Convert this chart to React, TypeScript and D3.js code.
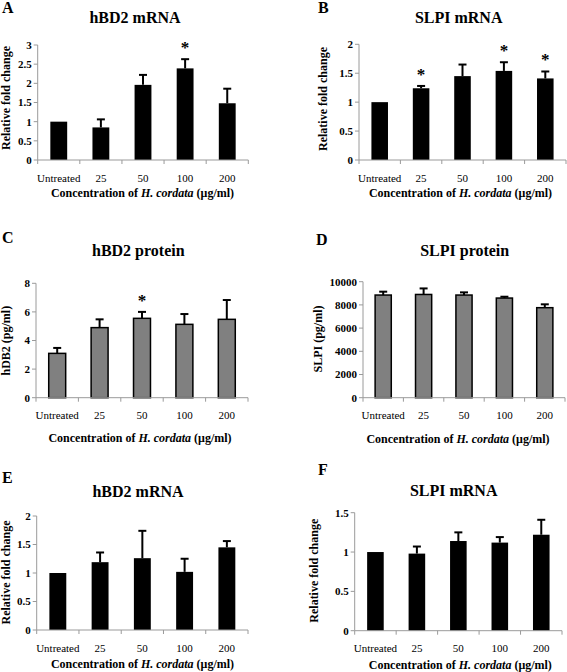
import React from "react";
import * as d3 from "d3";

const categories = ["Untreated", "25", "50", "100", "200"];

// Panel A: hBD2 mRNA
const aValues = [1.0, 0.85, 1.96, 2.39, 1.48];
const aErrors = [0, 0.21, 0.26, 0.24, 0.38];
const aSig = [false, false, false, true, false];
const aTicks = [0, 0.5, 1, 1.5, 2, 2.5, 3];

// Panel B: SLPI mRNA
const bValues = [1.0, 1.24, 1.45, 1.54, 1.41];
const bErrors = [0, 0.04, 0.2, 0.15, 0.12];
const bSig = [false, true, false, true, true];
const bTicks = [0, 0.5, 1, 1.5, 2];

// Panel C: hBD2 protein
const cValues = [3.1, 4.9, 5.55, 5.13, 5.48];
const cErrors = [0.38, 0.58, 0.45, 0.72, 1.35];
const cSig = [false, false, true, false, false];
const cTicks = [0, 2, 4, 6, 8];

// Panel D: SLPI protein
const dValues = [8850, 8900, 8850, 8590, 7760];
const dErrors = [290, 520, 230, 115, 290];
const dSig = [false, false, false, false, false];
const dTicks = [0, 2000, 4000, 6000, 8000, 10000];

// Panel E: hBD2 mRNA
const eValues = [1.0, 1.19, 1.26, 1.02, 1.45];
const eErrors = [0, 0.17, 0.48, 0.23, 0.11];
const eSig = [false, false, false, false, false];
const eTicks = [0, 0.5, 1, 1.5, 2];

// Panel F: SLPI mRNA
const fValues = [1.0, 0.98, 1.14, 1.12, 1.22];
const fErrors = [0, 0.09, 0.11, 0.07, 0.19];
const fSig = [false, false, false, false, false];
const fTicks = [0, 0.5, 1, 1.5];

const FONT = "'Liberation Serif', 'Times New Roman', serif";
const AXIS_COLOR = "#9a9a9a";

type PanelProps = {
  letter: string;
  letterX: number;
  letterY: number;
  title: string;
  titleX: number;
  titleY: number;
  yLabel: string;
  yLabelX: number;
  yLabelY: number;
  left: number;
  right: number;
  top: number;
  bottom: number;
  ticks: number[];
  values: number[];
  errors: number[];
  sig: boolean[];
  fill: string;
  outline: boolean;
  xTickY: number;
  xTitleX: number;
  xTitleY: number;
};

function Panel(p: PanelProps) {
  const yMax = p.ticks[p.ticks.length - 1];
  const x = d3
    .scaleBand<string>()
    .domain(categories)
    .range([p.left, p.right])
    .paddingInner(0.6)
    .paddingOuter(0.3);
  const y = d3.scaleLinear().domain([0, yMax]).range([p.bottom, p.top]);
  const step = x.step();
  const bw = x.bandwidth();
  const bounds = d3.range(categories.length + 1).map((i) => p.left + i * step);

  return (
    <g fontFamily={FONT}>
      <text x={p.letterX} y={p.letterY} fontSize={16} fontWeight="bold">
        {p.letter}
      </text>
      <text x={p.titleX} y={p.titleY} fontSize={16} fontWeight="bold" textAnchor="middle">
        {p.title}
      </text>
      <text
        transform={`translate(${p.yLabelX},${p.yLabelY}) rotate(-90)`}
        fontSize={12}
        fontWeight="bold"
        textAnchor="middle"
      >
        {p.yLabel}
      </text>
      {/* bars */}
      {categories.map((c, i) => (
        <rect
          key={c}
          x={x(c)}
          y={y(p.values[i])}
          width={bw}
          height={y(0) - y(p.values[i])}
          fill={p.fill}
          stroke={p.outline ? "#000" : "none"}
          strokeWidth={p.outline ? 1.5 : 0}
        />
      ))}
      {/* error bars */}
      {categories.map((c, i) => {
        if (p.errors[i] <= 0) return null;
        const cx = (x(c) as number) + bw / 2;
        const y0 = y(p.values[i]);
        const y1 = y(p.values[i] + p.errors[i]);
        return (
          <g key={"e" + c} stroke="#000" strokeWidth={2}>
            <line x1={cx} x2={cx} y1={y0} y2={y1} />
            <line x1={cx - 4} x2={cx + 4} y1={y1} y2={y1} />
          </g>
        );
      })}
      {/* significance */}
      {categories.map((c, i) => {
        if (!p.sig[i]) return null;
        const cx = (x(c) as number) + bw / 2;
        const y1 = y(p.values[i] + p.errors[i]);
        return (
          <text key={"s" + c} x={cx} y={y1 - 6} fontSize={17} fontWeight="bold" textAnchor="middle">
            *
          </text>
        );
      })}
      {/* axes */}
      <line x1={p.left} x2={p.left} y1={p.top} y2={p.bottom} stroke={AXIS_COLOR} strokeWidth={1} />
      <line x1={p.left} x2={p.right} y1={p.bottom} y2={p.bottom} stroke={AXIS_COLOR} strokeWidth={1} />
      {p.ticks.map((t) => (
        <g key={"yt" + t}>
          <line x1={p.left - 4} x2={p.left} y1={y(t)} y2={y(t)} stroke={AXIS_COLOR} strokeWidth={1} />
          <text
            x={p.left - 6}
            y={y(t)}
            dy="0.35em"
            fontSize={11}
            fontWeight="bold"
            textAnchor="end"
          >
            {t}
          </text>
        </g>
      ))}
      {bounds.map((b, i) => (
        <line key={"xt" + i} x1={b} x2={b} y1={p.bottom} y2={p.bottom + 4} stroke={AXIS_COLOR} strokeWidth={1} />
      ))}
      {categories.map((c) => (
        <text
          key={"xl" + c}
          x={(x(c) as number) + bw / 2}
          y={p.xTickY}
          fontSize={11}
          textAnchor="middle"
        >
          {c}
        </text>
      ))}
      <text x={p.xTitleX} y={p.xTitleY} fontSize={12} fontWeight="bold" textAnchor="middle">
        Concentration of <tspan fontStyle="italic">H. cordata</tspan> (μg/ml)
      </text>
    </g>
  );
}

export default function App() {
  return (
    <svg
      width={567}
      height={672}
      style={{ position: "absolute", left: 0, top: 0, background: "#fff" }}
    >
      <rect width={567} height={672} fill="#fff" />
      <Panel
        letter="A" letterX={2} letterY={12.5}
        title="hBD2 mRNA" titleX={135} titleY={22.5}
        yLabel="Relative fold change" yLabelX={10} yLabelY={98}
        left={37.7} right={248.3} top={45} bottom={160}
        ticks={aTicks} values={aValues} errors={aErrors} sig={aSig}
        fill="#000" outline={false}
        xTickY={181.5} xTitleX={142.5} xTitleY={197}
      />
      <Panel
        letter="B" letterX={318} letterY={12.5}
        title="SLPI mRNA" titleX={458.7} titleY={23.3}
        yLabel="Relative fold change" yLabelX={327} yLabelY={99}
        left={359} right={566} top={44.3} bottom={160}
        ticks={bTicks} values={bValues} errors={bErrors} sig={bSig}
        fill="#000" outline={false}
        xTickY={181.7} xTitleX={460.5} xTitleY={197}
      />
      <Panel
        letter="C" letterX={2} letterY={242.5}
        title="hBD2 protein" titleX={138.3} titleY={256}
        yLabel="hDB2 (pg/ml)" yLabelX={10} yLabelY={340.7}
        left={36} right={248} top={283.3} bottom={397.7}
        ticks={cTicks} values={cValues} errors={cErrors} sig={cSig}
        fill="#808080" outline={true}
        xTickY={419} xTitleX={140} xTitleY={442}
      />
      <Panel
        letter="D" letterX={316} letterY={245}
        title="SLPI protein" titleX={464.7} titleY={255.7}
        yLabel="SLPI (pg/ml)" yLabelX={322} yLabelY={339}
        left={363} right={565} top={281.7} bottom={397.7}
        ticks={dTicks} values={dValues} errors={dErrors} sig={dSig}
        fill="#808080" outline={true}
        xTickY={419} xTitleX={458} xTitleY={442.7}
      />
      <Panel
        letter="E" letterX={2} letterY={483}
        title="hBD2 mRNA" titleX={138} titleY={497.3}
        yLabel="Relative fold change" yLabelX={10} yLabelY={572.5}
        left={36.7} right={248} top={516} bottom={630}
        ticks={eTicks} values={eValues} errors={eErrors} sig={eSig}
        fill="#000" outline={false}
        xTickY={651.7} xTitleX={142.5} xTitleY={668.3}
      />
      <Panel
        letter="F" letterX={318} letterY={475}
        title="SLPI mRNA" titleX={453.7} titleY={495.5}
        yLabel="Relative fold change" yLabelX={318} yLabelY={570.7}
        left={354.7} right={562} top={512.7} bottom={630.7}
        ticks={fTicks} values={fValues} errors={fErrors} sig={fSig}
        fill="#000" outline={false}
        xTickY={652.3} xTitleX={460.3} xTitleY={669}
      />
    </svg>
  );
}
